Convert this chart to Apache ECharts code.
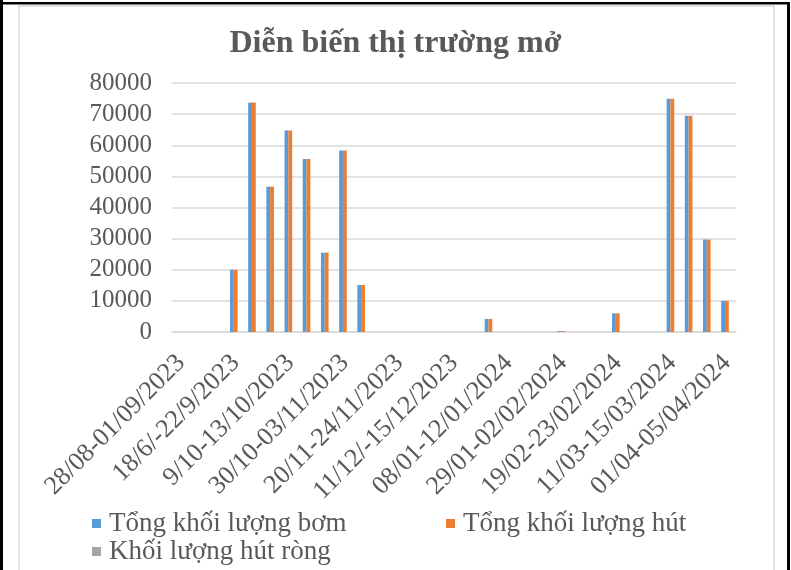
<!DOCTYPE html>
<html>
<head>
<meta charset="utf-8">
<script src="https://cdn.jsdelivr.net/npm/echarts@6/dist/echarts.min.js"></script>
<style>
  html, body { margin: 0; padding: 0; background: #ffffff; }
  #chart { width: 791px; height: 570px; }
</style>
</head>
<body>
<div id="chart"></div>
<script>
// Weekly open-market operations (tỷ đồng)
const weeks = [
  '28/08-01/09/2023', '04/09-08/09/2023', '11/09-15/09/2023', '18/6/-22/9/2023',
  '25/9-29/9/2023', '02/10-06/10/2023', '9/10-13/10/2023', '16/10-20/10/2023',
  '23/10-27/10/2023', '30/10-03/11/2023', '06/11-10/11/2023', '13/11-17/11/2023',
  '20/11-24/11/2023', '27/11-01/12/2023', '04/12-08/12/2023', '11/12/-15/12/2023',
  '18/12-22/12/2023', '25/12-29/12/2023', '08/01-12/01/2024', '15/01-19/01/2024',
  '22/01-26/01/2024', '29/01-02/02/2024', '05/02-09/02/2024', '12/02-16/02/2024',
  '19/02-23/02/2024', '26/02-01/03/2024', '04/03-08/03/2024', '11/03-15/03/2024',
  '18/03-22/03/2024', '25/03-29/03/2024', '01/04-05/04/2024'
];

const injected = [0, 0, 0, 20000, 73700, 46700, 64700, 55600, 25500, 58300, 15100,
  0, 0, 0, 0, 0, 0, 4200, 0, 0, 0, 300, 0, 0, 6000, 0, 0, 74900, 69500, 29700, 10000];

const withdrawn = [0, 0, 0, 20000, 73700, 46700, 64700, 55600, 25500, 58300, 15100,
  0, 0, 0, 0, 0, 0, 4200, 0, 0, 0, 300, 0, 0, 6000, 0, 0, 74900, 69500, 29700, 10000];

const netWithdrawn = [0, 0, 0, 0, 0, 0, 0, 0, 0, 0, 0, 0, 0, 0, 0, 0,
  0, 0, 0, 0, 0, 0, 0, 0, 0, 0, 0, 0, 0, 0, 0];

const yTicks = { min: 0, max: 80000, step: 10000 };

const seriesNames = ['Tổng khối lượng bơm', 'Tổng khối lượng hút', 'Khối lượng hút ròng'];
const seriesColors = ['#5B9BD5', '#ED7D31', '#A5A5A5'];

const FONT = '"Liberation Serif", "Times New Roman", serif';
const TEXT = '#595959';

const chart = echarts.init(document.getElementById('chart'), null, { renderer: 'canvas' });

function legendAt(name, left, top) {
  return {
    data: [name],
    left: left, top: top,
    icon: 'rect', itemWidth: 9, itemHeight: 9, itemGap: 0,
    padding: 0,
    selectedMode: false,
    textStyle: { fontFamily: FONT, fontSize: 27, color: TEXT, padding: [0, 0, 0, 3] }
  };
}

chart.setOption({
  animation: false,
  backgroundColor: '#ffffff',
  title: {
    text: 'Diễn biến thị trường mở',
    left: 'center', top: 23,
    textStyle: { fontFamily: FONT, fontSize: 32, fontWeight: 'bold', color: TEXT }
  },
  legend: [
    legendAt(seriesNames[0], 92, 510),
    legendAt(seriesNames[1], 446, 510),
    legendAt(seriesNames[2], 92, 538)
  ],
  grid: { left: 172, right: 55, top: 83, bottom: 238, containLabel: false },
  xAxis: {
    type: 'category',
    data: weeks,
    axisLine: { lineStyle: { color: '#d9d9d9', width: 1.5 } },
    axisTick: { show: false },
    axisLabel: {
      interval: 2, rotate: 45, margin: 27,
      fontFamily: FONT, fontSize: 26, color: TEXT
    }
  },
  yAxis: {
    type: 'value',
    min: yTicks.min, max: yTicks.max, interval: yTicks.step,
    axisLine: { show: false },
    axisTick: { show: false },
    splitLine: { lineStyle: { color: '#d9d9d9', width: 1.5 } },
    axisLabel: {
      margin: 20, fontFamily: FONT, fontSize: 25, color: TEXT,
      formatter: (v) => String(v)
    }
  },
  series: [
    { name: seriesNames[0], type: 'bar', data: injected, barWidth: 3.8, barGap: '0%',
      itemStyle: { color: seriesColors[0] } },
    { name: seriesNames[1], type: 'bar', data: withdrawn, barWidth: 3.8, barGap: '0%',
      itemStyle: { color: seriesColors[1] } },
    { name: seriesNames[2], type: 'bar', data: netWithdrawn, barWidth: 3.8, barGap: '0%',
      itemStyle: { color: seriesColors[2] } }
  ],
  graphic: [
    // chart area frame
    { type: 'rect', silent: true, z: -1,
      shape: { x: 19, y: 6, width: 755, height: 600 },
      style: { fill: null, stroke: '#d9d9d9', lineWidth: 1.5 } },
    // surrounding table-cell border
    { type: 'rect', silent: true, shape: { x: 0, y: 2, width: 790, height: 2.5 },
      style: { fill: '#000000' } },
    { type: 'rect', silent: true, shape: { x: 0, y: 0, width: 3, height: 570 },
      style: { fill: '#000000' } },
    { type: 'rect', silent: true, shape: { x: 787, y: 2, width: 3, height: 568 },
      style: { fill: '#000000' } }
  ]
});
</script>
</body>
</html>
